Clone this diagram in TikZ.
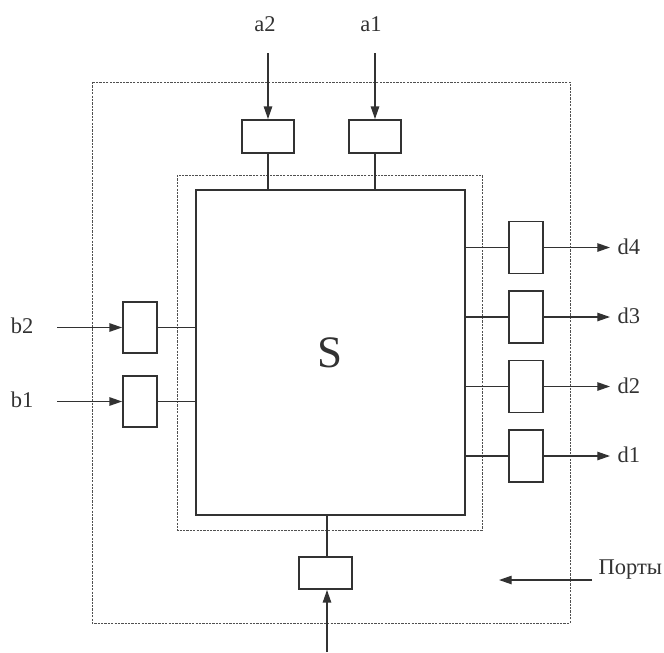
\documentclass[tikz,border=0pt]{standalone}
\usepackage{fontspec}
\setmainfont{Liberation Serif}
\usepackage{tikz}
\usetikzlibrary{arrows.meta,positioning}
\definecolor{InkGray}{RGB}{50,50,50}
\definecolor{FrameGray}{RGB}{80,80,80}
\tikzset{
  portbox/.style={draw=InkGray,line width=1.3pt,inner sep=0pt},
  wire/.style={InkGray,line width=0.9pt},
  feed/.style={wire,-{Triangle[length=9pt,width=6pt]}},
  frame/.style={FrameGray,line width=0.7pt,dash pattern=on 1.6pt off 0.8pt},
  lbl/.style={inner sep=1pt,text=InkGray,font=\fontsize{16}{19}\selectfont}
}

\begin{document}
\begin{tikzpicture}[x=0.025cm,y=-0.025cm]
  \useasboundingbox (0,0) rectangle (664,652);
  % boundaries
  \draw[frame] (92,82) rectangle (570,623);
  \draw[frame] (177,175) rectangle (482,530);
  \node[portbox,line width=1.2pt,minimum width=6.725cm,minimum height=8.125cm,
        font=\fontsize{32}{38}\selectfont,text=InkGray] (S) at (330.5,352.5) {S};
  % top inputs
  \foreach \n/\x in {A2/268,A1/375}{
    \node[portbox,minimum width=1.3cm,minimum height=0.825cm] (port\n) at (\x,136.5) {};
    \coordinate (in\n) at (\x,53);
    \draw[feed] (in\n) -- (port\n.north);
    \draw[wire] (port\n.south) -- (port\n.south |- S.north);
  }
  \node[lbl] (lblA2) at (265,24) {a2};
  \node[lbl] (lblA1) at (371,24) {a1};
  % left inputs
  \foreach \n/\y in {B2/327.5,B1/401.5}{
    \node[portbox,minimum width=0.85cm,minimum height=1.275cm] (port\n) at (140,\y) {};
    \coordinate (in\n) at (57,\y);
    \draw[feed] (in\n) -- (port\n.west);
    \draw[wire] (port\n.east) -- (port\n.east -| S.west);
  }
  \node[lbl,anchor=east] (lblB2) at (35,326) {b2};
  \node[lbl,anchor=east] (lblB1) at (35,400) {b1};
  % right outputs
  \foreach \n/\y in {4/247.5,3/317,2/386.5,1/456}{
    \node[portbox,minimum width=0.85cm,minimum height=1.3cm] (portD\n) at (526,\y) {};
    \coordinate (outD\n) at (610,\y);
    \draw[wire] (portD\n.west) -- (portD\n.west -| S.east);
    \draw[feed] (portD\n.east) -- (outD\n);
    \node[lbl,anchor=west] (lblD\n) at (616,\y-1) {d\n};
  }
  % bottom input
  \node[portbox,minimum width=1.325cm,minimum height=0.8cm] (portC) at (325.5,573) {};
  \coordinate (inC) at (327,652);
  \draw[feed] (inC) -- (inC |- portC.south);
  \draw[wire] (inC |- portC.north) -- (inC |- S.south);
  % legend
  \node[lbl,anchor=west] (lblPorts) at (597,570) {Порты};
  \coordinate (tailPorts) at (592,580);
  \coordinate (tipPorts) at (499,580);
  \draw[feed] (tailPorts) -- (tipPorts);
\end{tikzpicture}
\end{document}
